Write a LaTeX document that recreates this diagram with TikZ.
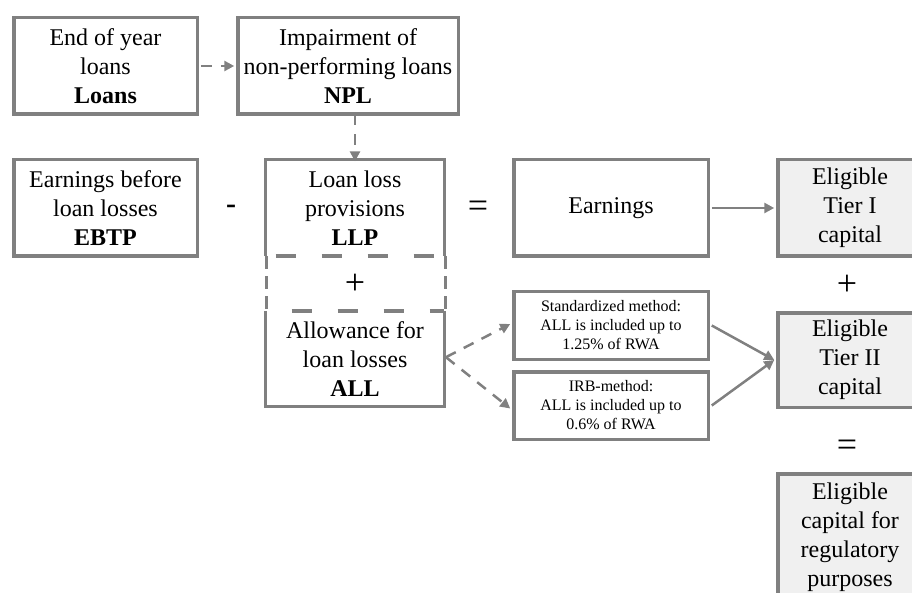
\documentclass[tikz,border=0pt]{standalone}
\usepackage{fontspec}
\setmainfont{Liberation Serif}
\usetikzlibrary{arrows.meta}
\definecolor{edge}{HTML}{808080}
\definecolor{capfill}{HTML}{F0F0F0}
\begin{document}
\begin{tikzpicture}[x=1pt,y=-1pt,
  box/.style={draw=edge,line width=3.5pt,align=center,inner sep=0pt,
    font=\fontsize{24}{29}\selectfont},
  smallbox/.style={box,font=\fontsize{16}{19}\selectfont},
  capbox/.style={box,fill=capfill},
  txt/.style={align=center,inner sep=0pt,font=\fontsize{24}{29}\selectfont},
  sym/.style={inner sep=0pt,font=\fontsize{36}{36}\selectfont},
  solidline/.style={draw=edge,line width=3.5pt},
  thickdash/.style={draw=edge,line width=3.5pt,dash pattern=on 20pt off 26pt,dash phase=36pt},
  thindash/.style={draw=edge,line width=2.5pt,dash pattern=on 13pt off 7pt},
  conn/.style={draw=edge,line width=2.5pt,-{Triangle[length=10pt,width=10pt]}},
  dconn/.style={conn,dash pattern=on 11pt off 9pt}]
\useasboundingbox (0,0) rectangle (912,593);

% top row
\node[box,minimum width=183.5pt,minimum height=96.5pt] (loans) at (105.5,66)
  {End of year\\loans\\\textbf{Loans}};
\node[box,minimum width=220.5pt,minimum height=96.5pt] (npl) at (348,66)
  {Impairment of\\non-performing loans\\\textbf{NPL}};

% second row
\node[box,minimum width=183.5pt,minimum height=96.5pt] (ebtp) at (105.5,208)
  {Earnings before\\loan losses\\\textbf{EBTP}};
\node[sym,font=\fontsize{30}{30}\selectfont\bfseries] (minus) at (231,209) {-};

\node[txt,minimum width=178.5pt,minimum height=96.25pt] (llp) at (355,207.9)
  {Loan loss\\provisions\\\textbf{LLP}};
\node[txt,minimum width=178.5pt,minimum height=95.25pt] (all) at (355,358.6)
  {Allowance for\\loan losses\\\textbf{ALL}};
\draw[solidline] (llp.south west) -- (llp.north west) -- (llp.north east) -- (llp.south east);
\draw[solidline] (all.north west) -- (all.south west) -- (all.south east) -- (all.north east);
\draw[thickdash] (llp.south west) -- (llp.south east);
\draw[thickdash,dash phase=20pt] (all.north west) -- (all.north east);
\draw[thindash] ([xshift=1pt]llp.south west) -- ([xshift=1pt]all.north west);
\draw[thindash] ([xshift=1pt]llp.south east) -- ([xshift=1pt]all.north east);
\node[sym] (plusmid) at (355,284) {+};

\node[sym] (eq1) at (478,209) {=};
\node[box,minimum width=194.5pt,minimum height=96.5pt] (earn) at (611,208) {Earnings};
\node[capbox,minimum width=144.5pt,minimum height=96.5pt] (tier1) at (850,208)
  {\raisebox{0pt}[\height][\depth]{}Eligible\\Tier I\\capital};
\node[sym] (plusr) at (847,285) {+};

% methods
\node[smallbox,minimum width=194.5pt,minimum height=67.5pt] (std) at (611,325.5)
  {Standardized method:\\ALL is included up to\\1.25\% of RWA};
\node[smallbox,minimum width=194.5pt,minimum height=67.5pt] (irb) at (611,405.5)
  {IRB-method:\\ALL is included up to\\0.6\% of RWA};
\node[capbox,minimum width=144.5pt,minimum height=94.5pt] (tier2) at (850,360)
  {Eligible\\Tier II\\capital};
\node[sym] (eq2) at (847,448) {=};
\node[capbox,minimum width=144.5pt,minimum height=126.5pt] (total) at (850,537)
  {Eligible\\capital for\\regulatory\\purposes};

% connectors
\draw[dconn] ([xshift=1.75pt]loans.east) -- ([xshift=-1.75pt]npl.west);
\draw[dconn] ([yshift=1.75pt]llp.north |- npl.south) -- ([yshift=-1.75pt]llp.north);
\draw[conn] ([xshift=1.75pt]earn.east) -- ([xshift=-1.75pt]tier1.west);
\draw[dconn] ([xshift=1.5pt,yshift=1.4pt]all.east) -- ([xshift=-1.75pt,yshift=1.5pt]std.west);
\draw[dconn] ([xshift=1.5pt,yshift=1.4pt]all.east) -- ([xshift=-1.75pt,yshift=-3pt]irb.west);
\draw[conn] ([xshift=1.75pt]std.east) -- ([xshift=-1.75pt]tier2.west);
\draw[conn] ([xshift=1.75pt]irb.east) -- ([xshift=-1.75pt]tier2.west);
\end{tikzpicture}
\end{document}
